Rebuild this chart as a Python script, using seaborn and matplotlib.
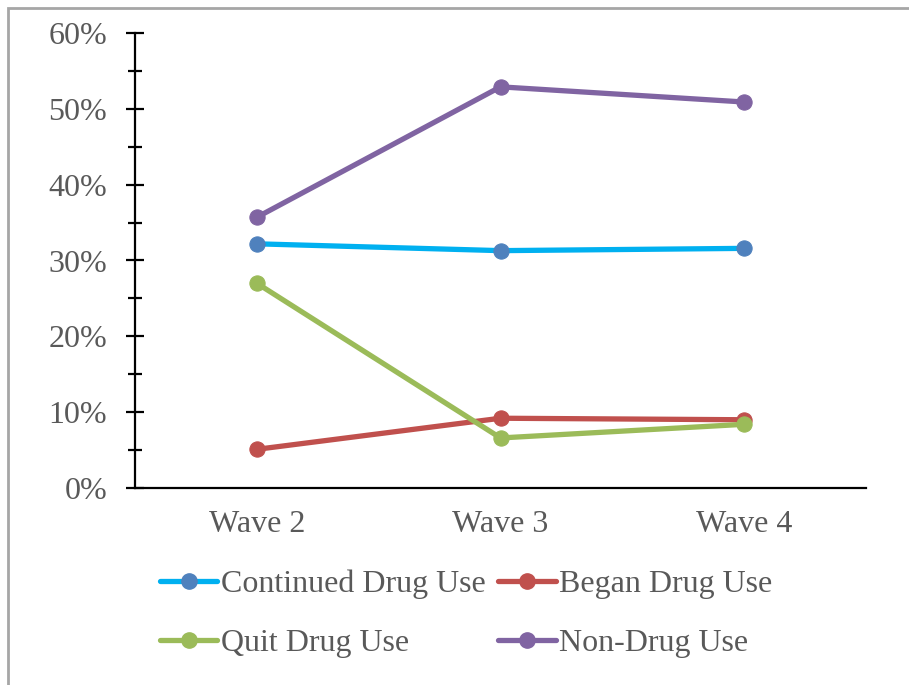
import matplotlib
matplotlib.use("Agg")
import matplotlib.pyplot as plt
import matplotlib.ticker as mticker
from matplotlib.lines import Line2D
from matplotlib.patches import Rectangle
import pandas as pd
import seaborn as sns

# Datos
waves = ["Wave 2", "Wave 3", "Wave 4"]
continued = [32.2, 31.3, 31.6]
began = [5.1, 9.2, 9.0]
quit_use = [27.0, 6.6, 8.4]
non_drug = [35.7, 52.9, 50.9]

series_names = ["Continued Drug Use", "Began Drug Use", "Quit Drug Use", "Non-Drug Use"]
line_colors = ["#00B0F0", "#C0504D", "#9BBB59", "#8064A2"]
marker_colors = ["#4F81BD", "#C0504D", "#9BBB59", "#8064A2"]

sns.set_style("white")
plt.rcParams["font.family"] = ["Liberation Serif", "DejaVu Serif"]

fig = plt.figure(figsize=(9.09, 6.85), dpi=100)
ax = fig.add_axes([135 / 909, 1 - 488 / 685, (866 - 135) / 909, (488 - 33) / 685])

# marco gris alrededor de la figura
fig.patches.append(Rectangle((8 / 909, -0.1), 1.2, 1 - 8 / 685 + 0.1, transform=fig.transFigure,
                             fill=False, edgecolor="#A6A6A6", linewidth=2))

values = [continued, began, quit_use, non_drug]
handles = []
for name, vals, lc, mc in zip(series_names, values, line_colors, marker_colors):
    df = pd.DataFrame({"x": [0.5, 1.5, 2.5], "y": [v / 100 for v in vals]})
    sns.lineplot(data=df, x="x", y="y", ax=ax, color=lc, linewidth=3.8, marker="o",
                 markersize=11, markerfacecolor=mc, markeredgecolor=mc, legend=False)
    handles.append(Line2D([], [], color=lc, linewidth=3.8, marker="o", markersize=11,
                          markerfacecolor=mc, markeredgecolor=mc))

ax.set_xlim(0, 3)
ax.set_ylim(0, 0.6)
ax.set_xticks([0.5, 1.5, 2.5])
ax.set_xticklabels(waves)
ax.yaxis.set_major_locator(mticker.MultipleLocator(0.1))
ax.yaxis.set_minor_locator(mticker.MultipleLocator(0.05))
ax.yaxis.set_major_formatter(mticker.PercentFormatter(1.0, decimals=0))
ax.set_xlabel("")
ax.set_ylabel("")

for s in ["top", "right"]:
    ax.spines[s].set_visible(False)
for s in ["left", "bottom"]:
    ax.spines[s].set_color("black")
    ax.spines[s].set_linewidth(1.6)

ax.tick_params(axis="y", which="major", direction="inout", length=13, width=1.6,
               color="black", labelsize=23, labelcolor="#595959", pad=13.5, left=True)
ax.tick_params(axis="y", which="minor", direction="inout", length=10, width=1.6,
               color="black", left=True)
ax.tick_params(axis="x", which="both", length=0, labelsize=23, labelcolor="#595959", pad=16)

# orden por columnas para que las filas queden como en el original
order = [0, 2, 1, 3]
fig.legend([handles[i] for i in order], [series_names[i] for i in order], loc="center",
           bbox_to_anchor=(466 / 909, 1 - 614 / 685), ncol=2, frameon=False, fontsize=23,
           labelcolor="#595959", handlelength=1.8, handletextpad=0.1, columnspacing=0.4,
           labelspacing=0.92, borderpad=0)

plt.savefig("out.png", dpi=100)
